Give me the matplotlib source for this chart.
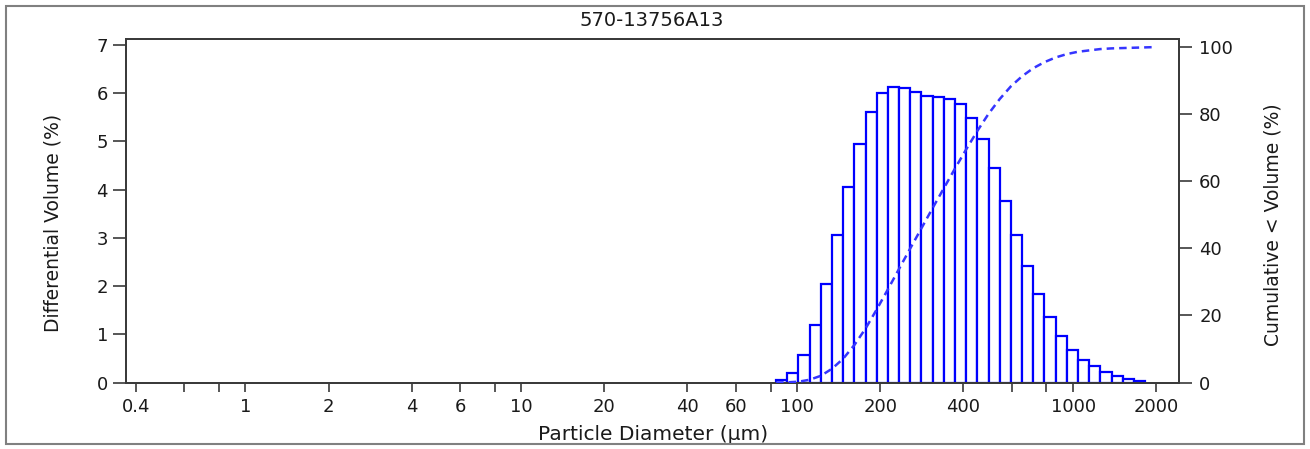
"""Particle size distribution: differential volume bars with cumulative < volume curve."""

import matplotlib

matplotlib.use("Agg")
import matplotlib.pyplot as plt  # noqa: E402
import numpy as np  # noqa: E402
from matplotlib.patches import Rectangle  # noqa: E402
from matplotlib.ticker import FixedFormatter, FixedLocator, NullLocator  # noqa: E402

TITLE = "570-13756A13"

# channel edges (um) of the drawn bins
BIN_EDGES = [83.8, 92.0, 101.0, 110.9, 121.7, 133.6, 146.7, 161.1, 176.8, 194.1,
             213.1, 233.9, 256.8, 281.9, 309.4, 339.7, 372.9, 409.4, 449.4, 493.4,
             541.6, 594.6, 652.8, 716.6, 786.7, 863.6, 948.1, 1040.8, 1142.6, 1254.0,
             1377.0, 1511.7, 1659.5, 1821.8]
DIFF_VOLUME = [0.05, 0.19, 0.58, 1.20, 2.05, 3.05, 4.06, 4.95, 5.62, 6.00,
               6.13, 6.11, 6.03, 5.95, 5.92, 5.89, 5.77, 5.49, 5.05, 4.45,
               3.76, 3.06, 2.41, 1.83, 1.36, 0.97, 0.68, 0.47, 0.34, 0.22,
               0.13, 0.08, 0.04]

CUM_SIZES = BIN_EDGES + [2000.0]
CUM_VOLUME = [0.0, 0.05, 0.24, 0.82, 2.0, 4.1, 7.1, 11.2, 16.1, 21.8,
              27.8, 33.9, 40.0, 46.0, 52.0, 57.9, 63.8, 69.5, 75.0, 80.1,
              84.5, 88.3, 91.3, 93.7, 95.5, 96.9, 97.9, 98.6, 99.0, 99.4,
              99.6, 99.7, 99.8, 99.9, 100.0]

X_TICKS = [0.4, 0.6, 0.8, 1, 2, 4, 6, 8, 10, 20, 40, 60, 80, 100, 200, 400, 600, 800, 1000, 2000]
X_LABELS = ["0.4", "", "", "1", "2", "4", "6", "", "10", "20", "40", "60", "", "100",
            "200", "400", "", "", "1000", "2000"]

BLUE = "#0000ff"
AXIS = "#3a3a3a"
TEXT = "#1a1a1a"

W, H = 1310, 449
fig = plt.figure(figsize=(W / 100, H / 100), dpi=100)
ax = fig.add_axes([126 / W, (H - 382.5) / H, (1179 - 126) / W, (382.5 - 39) / H])

edges = np.array(BIN_EDGES)
ax.bar(edges[:-1], DIFF_VOLUME, width=np.diff(edges), align="edge",
       facecolor="white", edgecolor=BLUE, linewidth=1.6, zorder=2)

ax.set_xscale("log")
ax.set_xlim(0.369, 2418)
ax.set_ylim(0, 7.125)
ax.xaxis.set_major_locator(FixedLocator(X_TICKS))
ax.xaxis.set_major_formatter(FixedFormatter(X_LABELS))
ax.xaxis.set_minor_locator(NullLocator())
ax.set_yticks(range(0, 8))

ax2 = ax.twinx()
ax2.plot(CUM_SIZES, CUM_VOLUME, color="#3535ff", linewidth=1.8, dashes=(3, 2), zorder=3)
ax2.set_ylim(0, 102.4)
ax2.set_yticks(range(0, 101, 20))

for a in (ax, ax2):
    for sp in a.spines.values():
        sp.set_color(AXIS)
        sp.set_linewidth(1.3)

ax.tick_params(axis="y", direction="out", length=9.5, width=1.2, pad=3.5,
               labelsize=13, color=AXIS, labelcolor=TEXT)
ax.tick_params(axis="x", direction="out", length=6.5, width=1.2, pad=5,
               labelsize=13, color=AXIS, labelcolor=TEXT)
ax2.tick_params(axis="y", direction="out", length=9.5, width=1.2, pad=5,
                labelsize=13, color=AXIS, labelcolor=TEXT)

ax.set_xlabel("Particle Diameter (µm)", fontsize=14.5, color=TEXT)
ax.xaxis.set_label_coords(0.5005, -0.15)
ax.xaxis.label.set_verticalalignment("center")
ax.set_ylabel("Differential Volume (%)", fontsize=13.5, color=TEXT)
ax.yaxis.set_label_coords(-0.0693, 0.465)
ax.yaxis.label.set_verticalalignment("center")
ax2.set_ylabel("Cumulative < Volume (%)", fontsize=13.5, color=TEXT)
ax2.yaxis.set_label_coords(1.089, 0.46)
ax2.yaxis.label.set_verticalalignment("center")

fig.text(652 / W, 1 - 21 / H, TITLE, ha="center", va="center", fontsize=14, color=TEXT)

fig.patches.append(Rectangle((6 / W, 5 / H), (W - 12) / W, (H - 11) / H,
                             transform=fig.transFigure, fill=False,
                             edgecolor="#808080", linewidth=1.5))

fig.savefig("out.png", dpi=100)
